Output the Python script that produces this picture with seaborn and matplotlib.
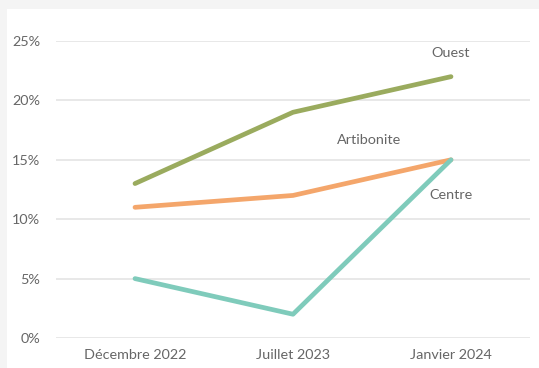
import matplotlib
matplotlib.use("Agg")
import matplotlib.pyplot as plt
import pandas as pd
import seaborn as sns

periods = ["Décembre 2022", "Juillet 2023", "Janvier 2024"]
ouest = [13, 19, 22]
artibonite = [11, 12, 15]
centre = [5, 2, 15]

regions = ["Ouest", "Artibonite", "Centre"]
colors = {"Ouest": "#9aab5e", "Artibonite": "#f4a66b", "Centre": "#7fcbbb"}

df = pd.DataFrame({
    "period": periods * 3,
    "pos": [0, 1, 2] * 3,
    "value": ouest + artibonite + centre,
    "region": ["Ouest"] * 3 + ["Artibonite"] * 3 + ["Centre"] * 3,
})

sns.set_style("white")
plt.rcParams["font.family"] = ["Lato", "DejaVu Sans"]

fig = plt.figure(figsize=(5.39, 3.68), dpi=100, facecolor="#f4f4f4")
fig.patches.append(plt.Rectangle((7 / 539, 0), 1, 1 - 9 / 368, transform=fig.transFigure,
                                 facecolor="white", edgecolor="none", zorder=-10))
ax = fig.add_axes([56 / 539, 1 - 338 / 368, (530 - 56) / 539, (338 - 41) / 368])
ax.set_facecolor("white")

sns.lineplot(data=df, x="pos", y="value", hue="region", hue_order=regions,
             palette=colors, linewidth=3.4, legend=False, ax=ax, clip_on=False)

ax.set_xlim(-0.5, 2.5)
ax.set_ylim(0, 25)
ax.set_xticks([0, 1, 2])
ax.set_xticklabels(periods)
ax.set_yticks([0, 5, 10, 15, 20, 25])
ax.set_yticklabels([f"{v}%" for v in [0, 5, 10, 15, 20, 25]])
ax.set_xlabel("")
ax.set_ylabel("")
ax.grid(axis="y", color="#e6e6e6", linewidth=1.3)
ax.set_axisbelow(True)
sns.despine(ax=ax, left=True, bottom=True)
ax.tick_params(axis="both", length=0, colors="#666666", labelsize=10.4)
ax.tick_params(axis="y", pad=11.5)
ax.tick_params(axis="x", pad=8)

label_pos = {"Ouest": (2.0, 24.0), "Artibonite": (1.48, 16.7), "Centre": (2.0, 12.0)}
for r in regions:
    x, y = label_pos[r]
    ax.text(x, y, r, ha="center", va="center", fontsize=10.4, color="#666666")

fig.savefig("out.png", dpi=100, facecolor=fig.get_facecolor())
